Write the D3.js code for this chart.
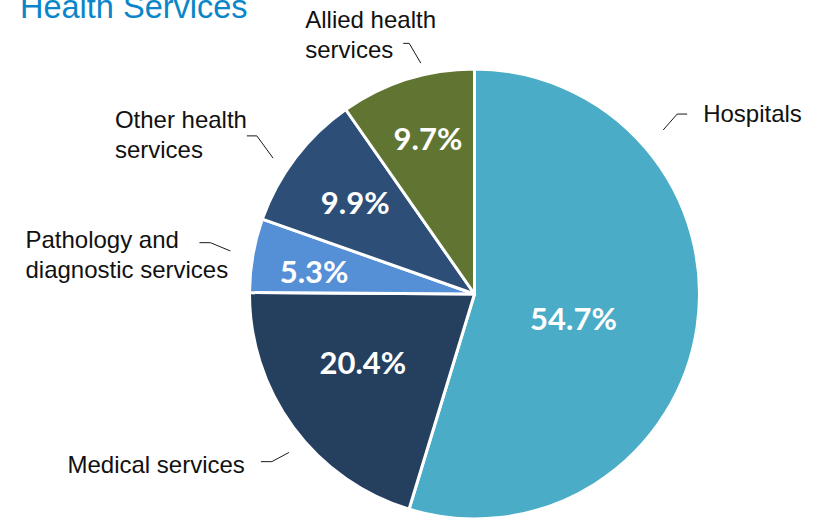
<!DOCTYPE html>
<html>
<head>
<meta charset="utf-8">
<script src="https://cdn.jsdelivr.net/npm/d3@7"></script>
<style>
  html, body { margin: 0; padding: 0; background: #ffffff; overflow: hidden; }
  svg { display: block; }
</style>
</head>
<body>
<svg id="chart" width="823" height="519"></svg>
<script>
// Health services expenditure shares (per cent), clockwise from 12 o'clock
const categories = ["Hospitals", "Medical services", "Pathology and diagnostic services", "Other health services", "Allied health services"];
const shares = [54.7, 20.4, 5.3, 9.9, 9.7];
const labelLines = [["Hospitals"], ["Medical services"], ["Pathology and", "diagnostic services"], ["Other health", "services"], ["Allied health", "services"]];
const colors = ["#4aacc6", "#253f5f", "#558fd5", "#2d4e77", "#617532"];

// Placement of the in-slice percentages (angle in degrees, radius in px)
const pctPlacement = [{a: 104, r: 102}, {a: 238.5, r: 131}, {a: 278, r: 162}, {a: 307.3, r: 150}, {a: 343.3, r: 162}];
// Leader lines: start point and elbow in polar form, then a short horizontal run
const leaders = [
  {a0: 49,    r0: 250, a1: 48.4,  r1: 271, run: 10},
  {a0: 229.5, r0: 244, a1: 230.4, r1: 263, run: 11},
  {a0: 280,   r0: 248, a1: 281,   r1: 269, run: 11},
  {a0: 304,   r0: 243, a1: 306,   r1: 269, run: 10},
  {a0: 346.9, r0: 237, a1: 345.4, r1: 259, run: 6}
];
// Text offset from the end of each leader line
const labelOffset = [
  {dx: 16, dy: 8, anchor: "start"},
  {dx: -16, dy: 11, anchor: "end"},
  {dx: -174, dy: 5, anchor: "start"},
  {dx: -132, dy: -8, anchor: "start"},
  {dx: -98, dy: -15, anchor: "start"}
];

const svg = d3.select("#chart");
const cx = 474.5, cy = 294, R = 225;

// Title (partly above the top edge)
svg.append("text")
  .attr("x", 20).attr("y", 18)
  .attr("font-family", "'Liberation Sans', Arial, sans-serif")
  .attr("font-size", 32.5)
  .attr("fill", "#0a86c8")
  .text("Health Services");

const data = categories.map((c, i) => ({name: c, value: shares[i], i}));
const pie = d3.pie().value(d => d.value).sort(null);
const arcs = pie(data);
const arc = d3.arc().innerRadius(0).outerRadius(R);

const g = svg.append("g").attr("transform", `translate(${cx},${cy})`);

g.selectAll("path.slice")
  .data(arcs)
  .join("path")
  .attr("class", "slice")
  .attr("d", arc)
  .attr("fill", d => colors[d.data.i])
  .attr("stroke", "#ffffff")
  .attr("stroke-width", 3)
  .attr("stroke-linejoin", "round");

const polar = (deg, r) => {
  const t = deg * Math.PI / 180;
  return [r * Math.sin(t), -r * Math.cos(t)];
};

// Percent labels inside slices
g.selectAll("text.pct")
  .data(arcs)
  .join("text")
  .attr("class", "pct")
  .attr("transform", d => {
    const p = pctPlacement[d.data.i];
    const [x, y] = polar(p.a, p.r);
    return `translate(${x},${y})`;
  })
  .attr("text-anchor", "middle")
  .attr("dy", "0.36em")
  .attr("font-family", "Lato, 'Open Sans', sans-serif")
  .attr("font-weight", 700)
  .attr("font-size", 31)
  .attr("fill", "#ffffff")
  .text(d => d3.format(".1f")(d.data.value) + "%");

// Leader lines and category labels
arcs.forEach(d => {
  const i = d.data.i;
  const L = leaders[i];
  const p0 = polar(L.a0, L.r0);
  const p1 = polar(L.a1, L.r1);
  const side = Math.sin(L.a1 * Math.PI / 180) >= 0 ? 1 : -1;
  const p2 = [p1[0] + side * L.run, p1[1]];
  g.append("polyline")
    .attr("points", [p0, p1, p2].map(p => p.join(",")).join(" "))
    .attr("fill", "none")
    .attr("stroke", "#1a1a1a")
    .attr("stroke-width", 1);

  const off = labelOffset[i];
  const t = g.append("text")
    .attr("x", p2[0] + off.dx)
    .attr("y", p2[1] + off.dy)
    .attr("text-anchor", off.anchor)
    .attr("font-family", "'Liberation Sans', Arial, sans-serif")
    .attr("font-size", 24)
    .attr("fill", "#111111");
  labelLines[i].forEach((line, k) => {
    t.append("tspan")
      .attr("x", p2[0] + off.dx)
      .attr("dy", k === 0 ? 0 : 30)
      .text(line);
  });
});
</script>
</body>
</html>
